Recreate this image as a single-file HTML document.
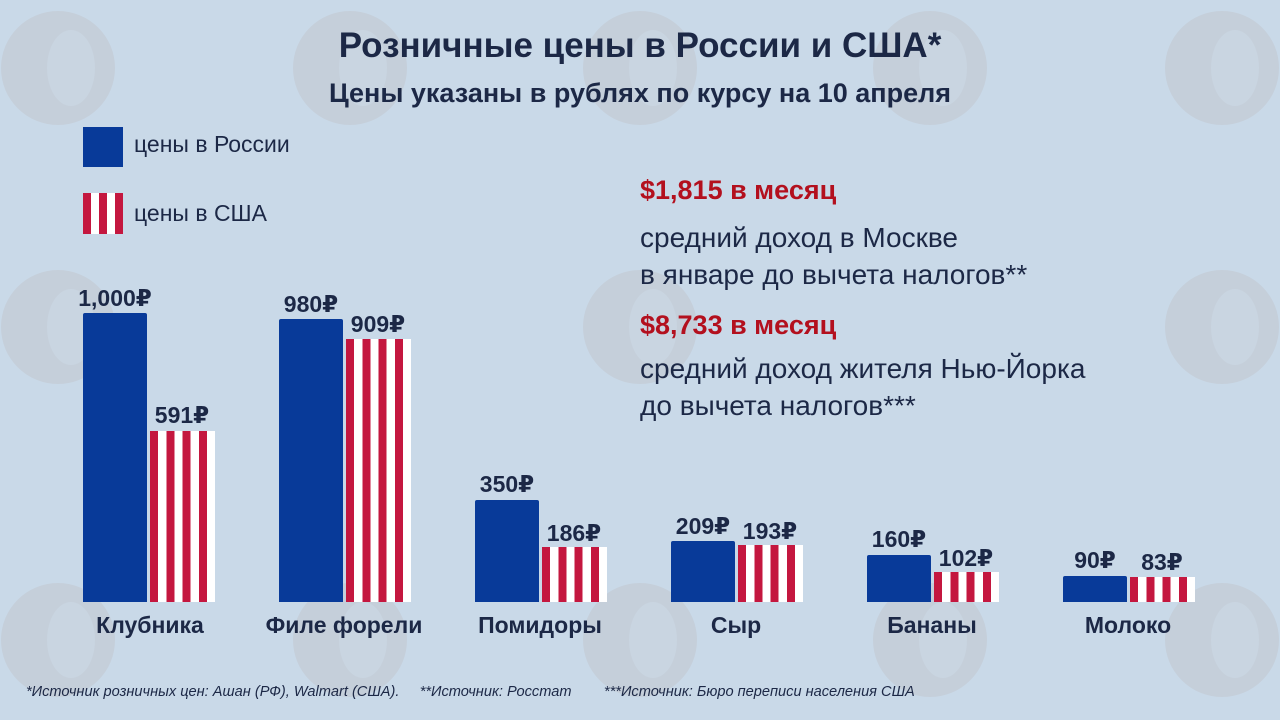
<!DOCTYPE html>
<html><head><meta charset="utf-8">
<style>
body{margin:0;width:1280px;height:720px;overflow:hidden;background:#c9d9e8;font-family:"Liberation Sans","DejaVu Sans",sans-serif;color:#1c2846;position:relative}
.wm{position:absolute;width:114px;height:114px;border-radius:50%;background:#c5cfda}
.wm::after{content:"";position:absolute;left:46px;top:19px;width:48px;height:76px;border-radius:50%;background:#c9d5e1}
.a{position:absolute;white-space:nowrap}
.ru{position:absolute;background:#083a99;border-radius:2px 2px 0 0;bottom:118px;width:64px}
.us{position:absolute;bottom:118px;width:65px;background:repeating-linear-gradient(90deg,#c4173f 0 8px,#fff 8px 16.3px)}
.v{position:absolute;font-weight:bold;font-size:23px;text-align:center;width:100px}
.c{position:absolute;font-weight:bold;font-size:23px;text-align:center;width:196px;top:612px}
</style></head><body>
<div class="wm" style="left:1px;top:11px"></div><div class="wm" style="left:293px;top:11px"></div><div class="wm" style="left:583px;top:11px"></div><div class="wm" style="left:873px;top:11px"></div><div class="wm" style="left:1165px;top:11px"></div>
<div class="wm" style="left:1px;top:270px"></div><div class="wm" style="left:583px;top:270px"></div><div class="wm" style="left:1165px;top:270px"></div>
<div class="wm" style="left:1px;top:583px"></div><div class="wm" style="left:293px;top:583px"></div><div class="wm" style="left:583px;top:583px"></div><div class="wm" style="left:873px;top:583px"></div><div class="wm" style="left:1165px;top:583px"></div>

<div class="a" style="left:0;width:1280px;text-align:center;top:26px;font-size:35px;font-weight:bold">Розничные цены в России и США*</div>
<div class="a" style="left:0;width:1280px;text-align:center;top:78px;font-size:27px;font-weight:bold">Цены указаны в рублях по курсу на 10 апреля</div>

<div class="a" style="left:83px;top:127px;width:40px;height:40px;background:#083a99"></div>
<div class="a" style="left:134px;top:131px;font-size:23px">цены в России</div>
<div class="a" style="left:83px;top:193px;width:40px;height:41px;background:repeating-linear-gradient(90deg,#c4173f 0 8px,#fff 8px 16px)"></div>
<div class="a" style="left:134px;top:200px;font-size:23px">цены в США</div>

<div class="a" style="left:640px;top:175px;font-size:27px;font-weight:bold;color:#b3101e">$1,815 в месяц</div>
<div class="a" style="left:640px;top:219px;font-size:28px;line-height:37px">средний доход в Москве<br>в январе до вычета налогов**</div>
<div class="a" style="left:640px;top:310px;font-size:27px;font-weight:bold;color:#b3101e">$8,733 в месяц</div>
<div class="a" style="left:640px;top:350px;font-size:28px;line-height:37px">средний доход жителя Нью-Йорка<br>до вычета налогов***</div>

<div class="ru" style="left:83px;height:289px"></div><div class="us" style="left:150px;height:171px"></div>
<div class="v" style="left:65px;top:285px">1,000₽</div><div class="v" style="left:132px;top:402px">591₽</div>
<div class="ru" style="left:279px;height:283px"></div><div class="us" style="left:346px;height:263px"></div>
<div class="v" style="left:261px;top:291px">980₽</div><div class="v" style="left:328px;top:311px">909₽</div>
<div class="ru" style="left:475px;height:102px"></div><div class="us" style="left:542px;height:55px"></div>
<div class="v" style="left:457px;top:471px">350₽</div><div class="v" style="left:524px;top:520px">186₽</div>
<div class="ru" style="left:671px;height:61px"></div><div class="us" style="left:738px;height:57px"></div>
<div class="v" style="left:653px;top:513px">209₽</div><div class="v" style="left:720px;top:518px">193₽</div>
<div class="ru" style="left:867px;height:47px"></div><div class="us" style="left:934px;height:30px"></div>
<div class="v" style="left:849px;top:526px">160₽</div><div class="v" style="left:916px;top:545px">102₽</div>
<div class="ru" style="left:1063px;height:26px"></div><div class="us" style="left:1130px;height:25px"></div>
<div class="v" style="left:1045px;top:547px">90₽</div><div class="v" style="left:1112px;top:549px">83₽</div>

<div class="c" style="left:52px">Клубника</div>
<div class="c" style="left:246px">Филе форели</div>
<div class="c" style="left:442px">Помидоры</div>
<div class="c" style="left:638px">Сыр</div>
<div class="c" style="left:834px">Бананы</div>
<div class="c" style="left:1030px">Молоко</div>

<div class="a" style="left:26px;top:684px;font-size:14.6px;font-style:italic">*Источник розничных цен: Ашан (РФ), Walmart (США).&nbsp;&nbsp;&nbsp;&nbsp;&nbsp;**Источник: Росстат&nbsp;&nbsp;&nbsp;&nbsp;&nbsp;&nbsp;&nbsp;&nbsp;***Источник: Бюро переписи населения США</div>
</body></html>
